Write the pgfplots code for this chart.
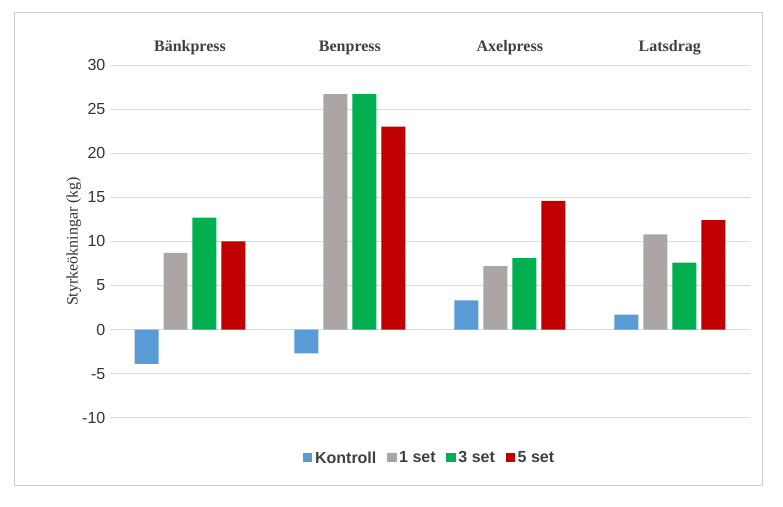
\documentclass[border=0pt]{standalone}
\usepackage{fontspec}
\setmainfont{Liberation Serif}
\newfontfamily\sansf{Liberation Sans}
\usepackage{pgfplots}
\pgfplotsset{compat=1.18}
\definecolor{cK}{HTML}{5B9BD5}
\definecolor{c1}{HTML}{ABA6A4}
\definecolor{c3}{HTML}{00B050}
\definecolor{c5}{HTML}{C00000}
\begin{document}
\begin{tikzpicture}
\begin{axis}[
  scale only axis, width=480pt, height=264.75pt,
  ymin=-10, ymax=30, ytick={-10,-5,...,30},
  xmin=-0.5, xmax=3.5, xtick={0,1,2,3},
  xticklabels={Bänkpress,Benpress,Axelpress,Latsdrag},
  xticklabel pos=upper,
  xticklabel style={font=\bfseries\large, text=black!75, yshift=4pt},
  yticklabel style={font=\sansf\large, text=black!80},
  /pgf/number format/assume math mode=true,
  ymajorgrids, grid style={gray!30},
  axis line style={draw=none}, major tick length=0pt,
  ybar=3.75pt, bar width=18pt,
  ylabel={Styrkeökningar (kg)}, ylabel style={font=\large, text=black!80, yshift=-6pt},
  legend style={at={(0.5,-0.08)}, anchor=north, draw=none, legend columns=4,
    font=\sansf\bfseries\large, text=black!75, /tikz/every even column/.append style={column sep=6pt}},
  legend image code/.code={\fill[#1] (0cm,-0.1cm) rectangle (0.25cm,0.15cm);},
  clip=false,
]
\addplot[fill=cK, draw=none] coordinates {(0,-3.9) (1,-2.7) (2,3.3) (3,1.7)};
\addplot[fill=c1, draw=none] coordinates {(0,8.7) (1,26.7) (2,7.2) (3,10.8)};
\addplot[fill=c3, draw=none] coordinates {(0,12.7) (1,26.7) (2,8.1) (3,7.6)};
\addplot[fill=c5, draw=none] coordinates {(0,10.0) (1,23.0) (2,14.6) (3,12.4)};
\legend{Kontroll,1 set,3 set,5 set}
\draw[gray!40] (rel axis cs:-0.15,-0.19) rectangle (rel axis cs:1.02,1.15);
\path (rel axis cs:-0.172,-0.252) rectangle (rel axis cs:1.052,1.184);
\end{axis}
\end{tikzpicture}
\end{document}
